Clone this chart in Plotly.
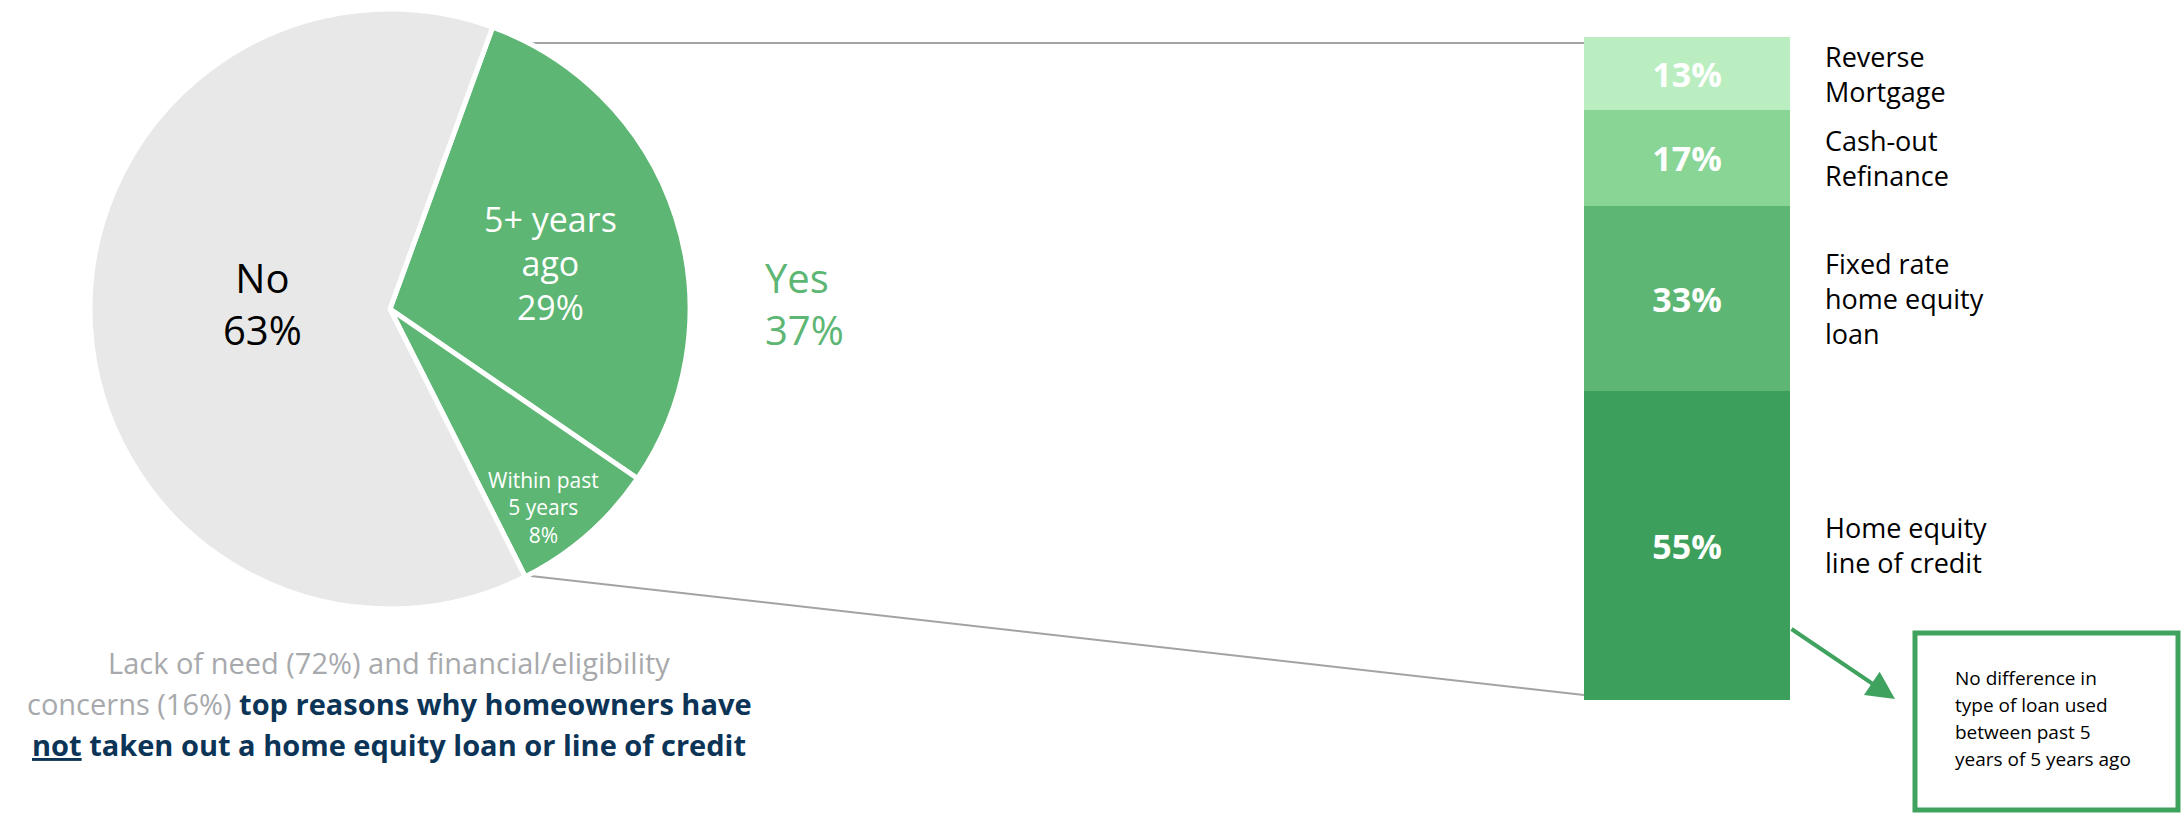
import plotly.graph_objects as go

W, H = 2182, 814

# ---------------- data ----------------
pie_labels = ["5+ years ago", "Within past 5 years", "No"]
pie_text = [["5+ years", "ago"], ["Within past", "5 years"], ["No"]]
pie_values = [29, 8, 63]

loan_types = [["Home equity", "line of credit"], ["Fixed rate", "home equity", "loan"],
              ["Cash-out", "Refinance"], ["Reverse", "Mortgage"]]
loan_values = [55, 33, 17, 13]

note_text = ["No difference in", "type of loan used", "between past 5", "years of 5 years ago"]
footer_lines = [
    "<span style='color:#A7A9AC'>Lack of need (72%) and financial/eligibility</span>",
    "<span style='color:#A7A9AC'>concerns (16%)</span> <span style='color:#0C3457'><b>top reasons why homeowners have</b></span>",
    "<span style='color:#0C3457'><b><u>not</u> taken out a home equity loan or line of credit</b></span>",
]

# ---------------- style ----------------
FONT = "Open Sans"
GREEN = "#5DB673"
GRAY = "#E7E8E7"
BAR_COLORS = ["#3D9F5C", "#5DB673", "#88D596", "#BAEEC0"]
ARROW_GREEN = "#3FA35F"
LINE_GRAY = "#A3A3A3"


def px(x):
    return x / W


def py(y):
    return 1 - y / H


annotations = []


def text_block(lines, x, y, size, color, xanchor="center", yref="paper", align="center"):
    annotations.append(dict(x=x, y=y, xref="paper", yref=yref, xanchor=xanchor,
                            yanchor="middle", text="<br>".join(lines), showarrow=False,
                            align=align, font=dict(family=FONT, size=size, color=color)))


cx, cy, R = 390, 309, 300

fig = go.Figure()

fig.add_trace(go.Pie(
    labels=pie_labels, values=pie_values, sort=False, direction="clockwise",
    rotation=20, textinfo="none", hoverinfo="label+percent",
    marker=dict(colors=[GREEN, GREEN, GRAY], line=dict(color="white", width=5)),
    domain=dict(x=[px(cx - R), px(cx + R)], y=[py(cy + R), py(cy - R)]),
    showlegend=False,
))

# stacked bar (bottom to top)
for name, v, c in zip(loan_types, loan_values, BAR_COLORS):
    fig.add_trace(go.Bar(
        x=[0], y=[v], width=1, marker=dict(color=c, line=dict(width=0)),
        text=[f"<b>{v}%</b>"], textposition="inside", insidetextanchor="middle",
        textangle=0, textfont=dict(family=FONT, size=34, color="white"),
        name=" ".join(name), showlegend=False,
    ))

# pie labels
text_block(pie_text[0] + [f"{pie_values[0]}%"], px(550), py(263), 34, "white")
text_block(pie_text[1] + [f"{pie_values[1]}%"], px(543), py(507), 21, "white")
text_block(pie_text[2] + [f"{pie_values[2]}%"], px(262), py(303), 40, "black")
yes_total = pie_values[0] + pie_values[1]
text_block(["Yes", f"{yes_total}%"], px(763), py(303), 40, GREEN, xanchor="left", align="left")

# right-side labels at segment centres (bar data coordinates)
cum = 0
for name, v in zip(loan_types, loan_values):
    text_block(name, px(1823), cum + v / 2, 27, "black", xanchor="left", yref="y", align="left")
    cum += v

# arrow
annotations.append(dict(x=px(1895), y=py(699), xref="paper", yref="paper",
                        ax=1790 - 1895, ay=628 - 699, axref="pixel", ayref="pixel",
                        text="", showarrow=True, arrowhead=2, arrowsize=1.4,
                        arrowwidth=4, arrowcolor=ARROW_GREEN, standoff=0))

# note box text (one line per annotation for the wider line spacing)
for i, line in enumerate(note_text):
    annotations.append(dict(x=px(1953), y=py(678 + 27 * i), xref="paper", yref="paper",
                            xanchor="left", yanchor="middle", text=line, showarrow=False,
                            font=dict(family=FONT, size=19, color="black")))

# footer text
for i, line in enumerate(footer_lines):
    annotations.append(dict(x=px(389), y=py(662 + 41 * i), xref="paper", yref="paper",
                            xanchor="center", yanchor="middle", text=line, showarrow=False,
                            font=dict(family=FONT, size=29, color="#0C3457")))

shapes = [
    dict(type="line", xref="paper", yref="paper", x0=px(515), y0=py(43), x1=px(1584), y1=py(43),
         line=dict(color=LINE_GRAY, width=2), layer="below"),
    dict(type="line", xref="paper", yref="paper", x0=px(522), y0=py(575), x1=px(1584), y1=py(695),
         line=dict(color=LINE_GRAY, width=2), layer="below"),
    dict(type="rect", xref="paper", yref="paper", x0=px(1915), y0=py(633), x1=px(2178), y1=py(810),
         line=dict(color=ARROW_GREEN, width=5), fillcolor="rgba(0,0,0,0)"),
]

fig.update_layout(
    width=W, height=H, margin=dict(l=0, r=0, t=0, b=0),
    paper_bgcolor="white", plot_bgcolor="rgba(0,0,0,0)",
    barmode="stack", bargap=0,
    xaxis=dict(domain=[px(1584), px(1790)], range=[-0.5, 0.5], visible=False, fixedrange=True),
    yaxis=dict(domain=[py(700), py(37)], range=[0, sum(loan_values)], visible=False, fixedrange=True),
    annotations=annotations, shapes=shapes,
    font=dict(family=FONT), showlegend=False,
)

fig.write_html("out.html")
